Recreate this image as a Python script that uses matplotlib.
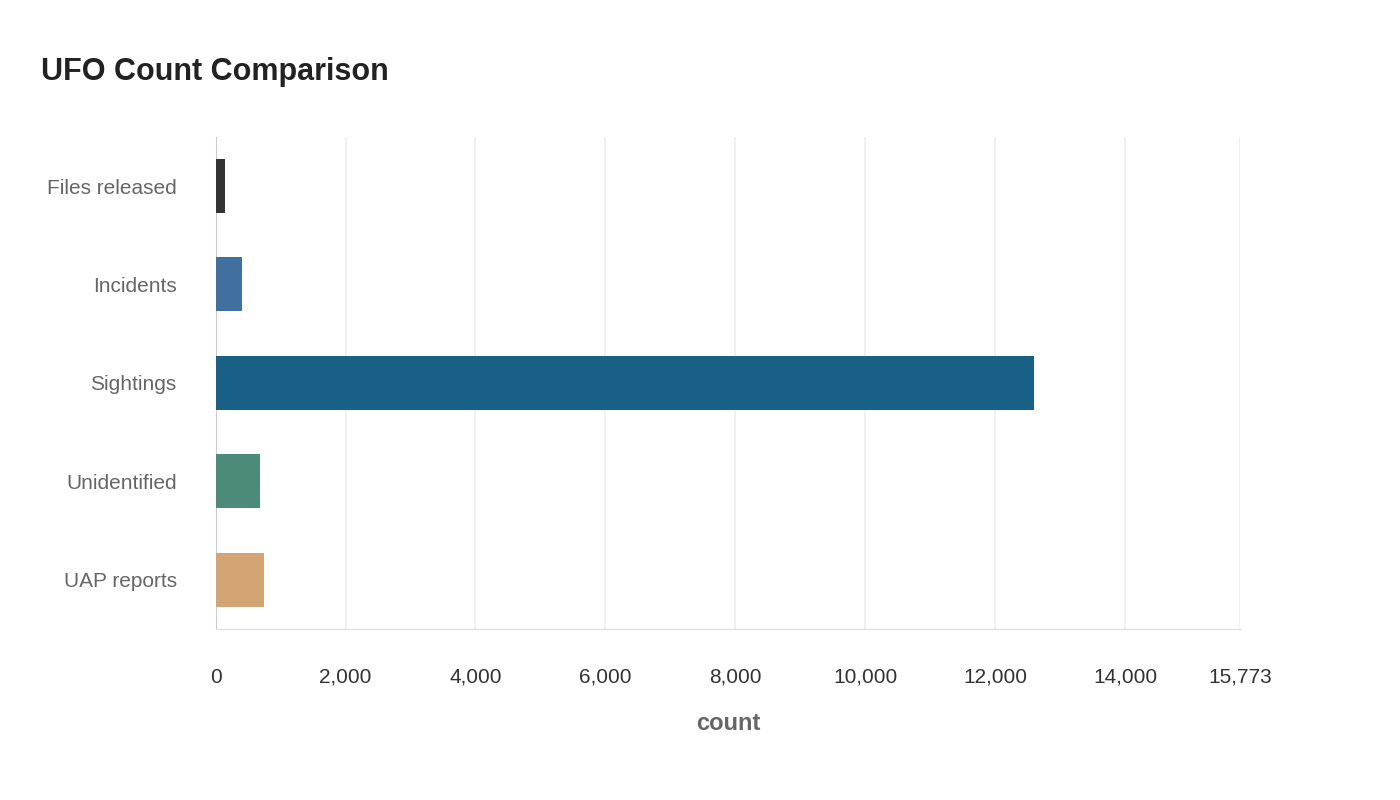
import matplotlib
matplotlib.use("Agg")
import matplotlib.pyplot as plt
from matplotlib.patches import FancyBboxPatch

plt.rcParams['font.family'] = ['Liberation Sans', 'DejaVu Sans']

categories = ["Files released", "Incidents", "Sightings", "Unidentified", "UAP reports"]
values = [150, 400, 12600, 690, 750]
colors = ["#333333", "#41709f", "#186086", "#4c8b79", "#d4a574"]
xticks = [0, 2000, 4000, 6000, 8000, 10000, 12000, 14000, 15773]
xmax = 15773

fig = plt.figure(figsize=(14, 8), dpi=100)
ax = fig.add_axes([0.154, 0.214, 0.732, 0.615])
ypos = list(range(len(categories)))
bars = ax.barh(ypos, values, height=0.55, color=colors, zorder=3)
ax.set_ylim(len(categories) - 0.5, -0.5)
ax.set_xlim(0, xmax)
ax.set_yticks(ypos)
ax.set_yticklabels(categories, fontsize=15, color="#666666")
ax.set_xticks(xticks)
ax.set_xticklabels([f"{t:,}" for t in xticks], fontsize=15, color="#333333")
ax.tick_params(axis='y', length=0, pad=28)
ax.tick_params(axis='x', length=0, pad=28)
ax.grid(axis='x', color="#eeeeee", lw=1.2, zorder=0)
for s in ["top", "right"]:
    ax.spines[s].set_visible(False)
ax.spines["left"].set_color("#cccccc")
ax.spines["bottom"].set_color("#dddddd")
ax.set_xlabel("count", fontsize=17, fontweight="bold", color="#666666", labelpad=18)
for y, v in zip(ypos, values):
    ax.text(v, y, f" {v:,}", color="white", fontsize=14, fontweight="bold",
            va="center", ha="left", zorder=4)
fig.text(0.029, 0.9, "UFO Count Comparison", fontsize=22, fontweight="bold", color="#222222")
fig.savefig("out.png", dpi=100, facecolor="white")
